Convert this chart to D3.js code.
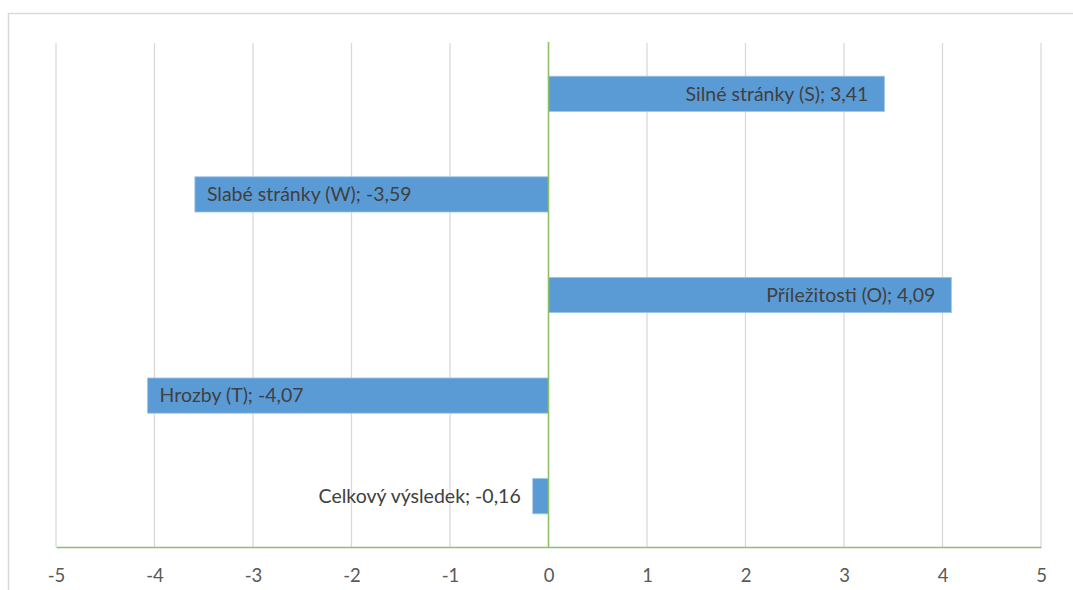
<!DOCTYPE html>
<html>
<head>
<meta charset="utf-8">
<script src="https://cdn.jsdelivr.net/npm/d3@7"></script>
<style>
  html, body { margin: 0; padding: 0; background: #fff; }
  svg { display: block; }
</style>
</head>
<body>
<svg id="chart"></svg>
<script>
// data
const categories = ['Silné stránky (S)', 'Slabé stránky (W)', 'Příležitosti (O)', 'Hrozby (T)', 'Celkový výsledek'];
const values = [3.41, -3.59, 4.09, -4.07, -0.16];
const xTicks = [-5, -4, -3, -2, -1, 0, 1, 2, 3, 4, 5];

const width = 1073, height = 590;
const plot = { left: 56, right: 1041, top: 43, bottom: 547 };
const font = "Lato, 'Open Sans', sans-serif";

const svg = d3.select('#chart')
    .attr('width', width)
    .attr('height', height);

// outer frame
svg.append('rect')
    .attr('x', 8.5).attr('y', 13.5)
    .attr('width', 1100).attr('height', 700)
    .attr('fill', 'none')
    .attr('stroke', '#d9d9d9')
    .attr('stroke-width', 1.5);

const x = d3.scaleLinear()
    .domain([-5, 5])
    .range([plot.left, plot.right]);
const y = d3.scaleBand()
    .domain(categories)
    .range([plot.top, plot.bottom])
    .paddingInner(0.65)
    .paddingOuter(0.33);

// gridlines
svg.append('g')
    .selectAll('line')
    .data(xTicks.filter(t => t !== 0))
    .enter()
    .append('line')
    .attr('x1', d => x(d)).attr('x2', d => x(d))
    .attr('y1', plot.top).attr('y2', plot.bottom)
    .attr('stroke', '#d9d9d9')
    .attr('stroke-width', 1.3);

// bars
const data = categories.map((c, i) => ({ name: c, value: values[i] }));
svg.append('g')
    .selectAll('rect')
    .data(data)
    .enter()
    .append('rect')
    .attr('x', d => Math.min(x(0), x(d.value)))
    .attr('y', d => y(d.name))
    .attr('width', d => Math.abs(x(d.value) - x(0)))
    .attr('height', y.bandwidth())
    .attr('fill', '#5b9bd5')
    .attr('stroke', '#9dc3e6')
    .attr('stroke-width', 0.8);

// zero line + x axis line
svg.append('line')
    .attr('x1', x(0)).attr('x2', x(0))
    .attr('y1', plot.top - 1).attr('y2', plot.bottom)
    .attr('stroke', '#8cc168').attr('stroke-width', 1.6);

const axis = svg.append('g')
    .attr('transform', `translate(0,${plot.bottom})`)
    .call(d3.axisBottom(x).tickValues(xTicks).tickSize(0).tickPadding(22).tickFormat(d3.format('d')));
axis.select('.domain').attr('stroke', '#8cc168').attr('stroke-width', 1.6);
axis.selectAll('text')
    .attr('fill', '#595959')
    .style('font-family', font)
    .style('font-size', '18.5px')
    .text(d => String(d).replace('−', '-'));

// labels
const fmt = v => v.toFixed(2).replace('.', ',');
const pad = 12;
svg.append('g')
    .selectAll('text')
    .data(data)
    .enter()
    .append('text')
    .attr('y', d => y(d.name) + y.bandwidth() / 2)
    .attr('dy', '0.35em')
    .attr('fill', '#404040')
    .style('font-family', font)
    .style('font-size', '19.5px')
    .text(d => `${d.name}; ${fmt(d.value)}`)
    .each(function(d) {
        const t = d3.select(this);
        const w = this.getComputedTextLength();
        const barW = Math.abs(x(d.value) - x(0));
        const inside = w + pad * 2 < barW;
        if (d.value >= 0) {
            if (inside) t.attr('x', x(d.value) - pad - 4).attr('text-anchor', 'end');
            else t.attr('x', x(d.value) + pad).attr('text-anchor', 'start');
        } else {
            if (inside) t.attr('x', x(d.value) + pad).attr('text-anchor', 'start');
            else t.attr('x', x(d.value) - pad).attr('text-anchor', 'end');
        }
    });
</script>
</body>
</html>
